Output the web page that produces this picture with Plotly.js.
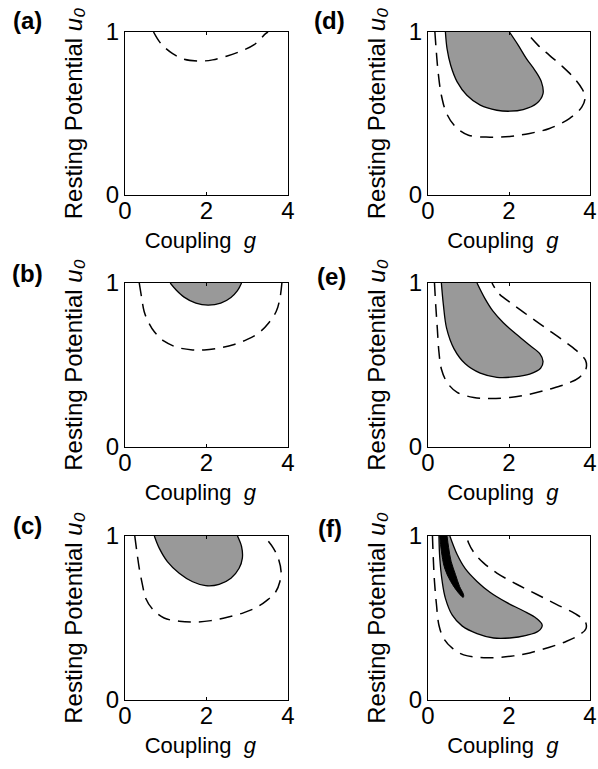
<!DOCTYPE html>
<html><head><meta charset="utf-8">
<script src="https://cdn.plot.ly/plotly-3.0.1.min.js"></script>
<style>html,body{margin:0;padding:0;background:#fff}</style>
</head><body><div id="chart" style="width:598px;height:769px"></div>
<script>
// Axis ticks
const xTicks = [0, 2, 4];
const yTicks = [0, 1];
const panelLabels = ['(a)', '(b)', '(c)', '(d)', '(e)', '(f)'];
const xTitle = 'Coupling&nbsp;&nbsp;<i>g</i>&nbsp;&nbsp;';
const yTitle = 'Resting Potential <i>u\u2080</i>';

// Panel (a)
const gA_dash = [0.70,0.88,1.17,1.45,1.86,2.15,2.51,2.84,3.17,3.45,3.51];
const uA_dash = [1.0,0.929,0.867,0.833,0.822,0.829,0.853,0.882,0.922,0.99,1.0];

// Panel (b)
const gB_fill = [1.11,1.25,1.45,1.74,2.04,2.35,2.60,2.76,2.86];
const uB_fill = [1.0,0.959,0.914,0.877,0.865,0.877,0.912,0.953,1.0];
const gB_dash = [0.35,0.41,0.47,0.57,0.72,0.96,1.29,1.66,1.94,2.35,2.68,3.0,3.29,3.53,3.71,3.80,3.85];
const uB_dash = [1.0,0.908,0.826,0.764,0.703,0.645,0.607,0.592,0.592,0.605,0.625,0.656,0.697,0.758,0.826,0.904,1.0];

// Panel (c)
const gC_fill = [0.72,0.84,1.04,1.33,1.66,1.98,2.31,2.60,2.80,2.88,2.86,2.76];
const uC_fill = [1.0,0.926,0.844,0.773,0.721,0.697,0.705,0.742,0.803,0.865,0.936,1.0];
const gC_dash = [0.24,0.29,0.35,0.43,0.51,0.68,0.96,1.33,1.70,2.11,2.51,2.92,3.25,3.49,3.70,3.80,3.83,3.76,3.64,3.49,3.41];
const uC_dash = [1.0,0.906,0.803,0.701,0.619,0.553,0.5,0.480,0.475,0.484,0.504,0.533,0.568,0.609,0.660,0.721,0.783,0.865,0.926,0.977,1.0];

// Panel (d)
const gD_fill = [0.43,0.47,0.56,0.72,0.96,1.29,1.70,2.02,2.35,2.68,2.84,2.80,2.64,2.43,2.23,2.01];
const uD_fill = [1.0,0.898,0.796,0.694,0.612,0.551,0.520,0.514,0.524,0.561,0.622,0.694,0.765,0.837,0.918,1.0];
const gD_dash = [0.17,0.20,0.25,0.33,0.46,0.68,1.0,1.53,2.02,2.51,3.0,3.49,3.80,3.88,3.80,3.62,3.33,3.0,2.72,2.42];
const uD_dash = [1.0,0.898,0.755,0.612,0.5,0.418,0.367,0.355,0.359,0.378,0.408,0.469,0.541,0.602,0.653,0.714,0.786,0.857,0.918,1.0];

// Panel (e)
const gE_fill = [0.33,0.38,0.46,0.64,0.92,1.29,1.70,2.11,2.51,2.78,2.84,2.76,2.51,2.19,1.86,1.60,1.40,1.21];
const uE_fill = [1.0,0.867,0.723,0.600,0.507,0.450,0.425,0.427,0.444,0.480,0.522,0.569,0.620,0.686,0.758,0.830,0.908,1.0];
const gE_dash = [0.16,0.19,0.23,0.27,0.33,0.47,0.72,1.13,1.53,2.02,2.51,3.0,3.41,3.74,3.90,3.89,3.66,3.33,2.92,2.51,2.11,1.74,1.58];
const uE_dash = [1.0,0.867,0.723,0.579,0.476,0.394,0.333,0.302,0.296,0.302,0.322,0.353,0.384,0.425,0.476,0.528,0.589,0.651,0.723,0.795,0.867,0.938,1.0];

// Panel (f)
const gF_fill = [0.27,0.29,0.35,0.43,0.60,0.84,1.21,1.62,2.02,2.43,2.72,2.82,2.68,2.35,1.94,1.53,1.21,0.92,0.72,0.54];
const uF_fill = [1.0,0.867,0.723,0.620,0.517,0.452,0.405,0.378,0.378,0.394,0.419,0.456,0.497,0.544,0.595,0.657,0.723,0.801,0.887,1.0];
const gF_black = [0.29,0.33,0.41,0.56,0.76,0.87,0.88,0.78,0.68,0.57,0.51,0.47];
const uF_black = [1.0,0.908,0.805,0.723,0.651,0.626,0.641,0.692,0.764,0.846,0.928,1.0];
const gF_dash = [0.11,0.13,0.16,0.21,0.27,0.39,0.60,0.88,1.29,1.70,2.11,2.51,3.0,3.41,3.72,3.90,3.88,3.62,3.17,2.68,2.19,1.70,1.37,1.14,1.0,0.95];
const uF_dash = [1.0,0.867,0.723,0.579,0.456,0.374,0.316,0.275,0.259,0.259,0.269,0.287,0.322,0.357,0.394,0.435,0.480,0.528,0.583,0.645,0.706,0.774,0.836,0.897,0.959,1.0];

const W = 598, H = 769;
const FONT = 'Liberation Sans, Arial, Helvetica, sans-serif';

const colDom = [[125/W, 288/W], [428/W, 590/W]];
const rowDom = [[1-195/H, 1-32/H], [1-447/H, 1-283/H], [1-700/H, 1-536/H]];

const panels = [
  {col:0,row:0, fill:null, black:null, dash:[gA_dash,uA_dash], lab:[28,21]},
  {col:0,row:1, fill:[gB_fill,uB_fill], black:null, dash:[gB_dash,uB_dash], lab:[28,273]},
  {col:0,row:2, fill:[gC_fill,uC_fill], black:null, dash:[gC_dash,uC_dash], lab:[28,525]},
  {col:1,row:0, fill:[gD_fill,uD_fill], black:null, dash:[gD_dash,uD_dash], lab:[329,21]},
  {col:1,row:1, fill:[gE_fill,uE_fill], black:null, dash:[gE_dash,uE_dash], lab:[331,276]},
  {col:1,row:2, fill:[gF_fill,uF_fill], black:[gF_black,uF_black], dash:[gF_dash,uF_dash], lab:[330,528]}
];

const data = [];
const layout = {
  width: W, height: H,
  margin: {l:0, r:0, t:0, b:0},
  paper_bgcolor: '#fff', plot_bgcolor: '#fff',
  showlegend: false,
  font: {family: FONT, size: 22, color: '#000'},
  annotations: []
};

panels.forEach((p, i) => {
  const n = i === 0 ? '' : String(i + 1);
  const xa = 'x' + n, ya = 'y' + n;
  if (p.fill) {
    data.push({x: p.fill[0], y: p.fill[1], xaxis: xa, yaxis: ya, type: 'scatter', mode: 'lines',
      fill: 'toself', fillcolor: '#999999', line: {color: '#000', width: 1.3, shape: 'spline', smoothing: 1}, hoverinfo: 'skip'});
  }
  if (p.black) {
    data.push({x: p.black[0], y: p.black[1], xaxis: xa, yaxis: ya, type: 'scatter', mode: 'lines',
      fill: 'toself', fillcolor: '#000', line: {color: '#000', width: 1, shape: 'spline', smoothing: 1}, hoverinfo: 'skip'});
  }
  data.push({x: p.dash[0], y: p.dash[1], xaxis: xa, yaxis: ya, type: 'scatter', mode: 'lines',
    line: {color: '#000', width: 1.5, dash: '13px,8px', shape: 'spline', smoothing: 1}, hoverinfo: 'skip'});

  const common = {showline: true, linecolor: '#000', linewidth: 1.2, mirror: 'ticks', ticks: 'inside',
    ticklen: 3, tickcolor: '#000', showgrid: false, zeroline: false, fixedrange: true,
    tickfont: {family: FONT, size: 24, color: '#000'}};
  layout['xaxis' + n] = Object.assign({}, common, {
    domain: colDom[p.col], anchor: ya, range: [0, 4], tickvals: xTicks, ticktext: xTicks.map(String),
    ticklabelstandoff: -6,
    title: {text: xTitle, font: {family: FONT, size: 22, color: '#000'}, standoff: 9}
  });
  layout['yaxis' + n] = Object.assign({}, common, {
    domain: rowDom[p.row], anchor: xa, range: [0, 1], tickvals: yTicks, ticktext: yTicks.map(String),
    ticklabelstandoff: 0,
    title: {text: yTitle, font: {family: FONT, size: 24, color: '#000'}, standoff: 16}
  });
  layout.annotations.push({text: '<b>' + panelLabels[i] + '</b>', xref: 'paper', yref: 'paper',
    x: p.lab[0] / W, y: 1 - p.lab[1] / H, xanchor: 'center', yanchor: 'middle', showarrow: false,
    font: {family: FONT, size: 24, color: '#000'}});
});

Plotly.newPlot('chart', data, layout, {displayModeBar: false, staticPlot: true});
</script></body></html>
